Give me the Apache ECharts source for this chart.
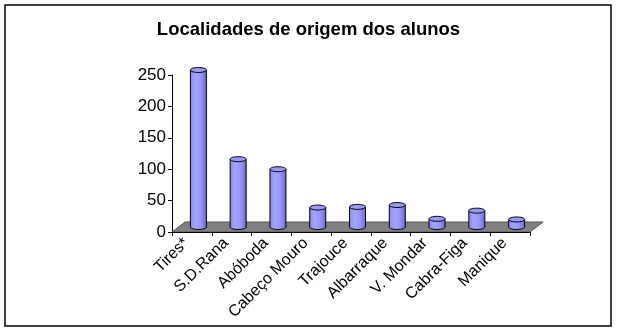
<!DOCTYPE html>
<html>
<head>
<meta charset="utf-8">
<script src="https://cdn.jsdelivr.net/npm/echarts@6/dist/echarts.min.js"></script>
<style>
html,body{margin:0;padding:0;background:#fff;}
#chart{width:617px;height:332px;}
</style>
</head>
<body>
<div id="chart"></div>
<script>
var categories = ['Tires*', 'S.D.Rana', 'Abóboda', 'Cabeço Mouro', 'Trajouce', 'Albarraque', 'V. Mondar', 'Cabra-Figa', 'Manique'];
var values = [250, 108, 92, 31, 32, 35, 13, 26, 12];
var yTicks = [0, 50, 100, 150, 200, 250];

var FONT = 'Arial, "Liberation Sans", sans-serif';
var DEPTH_X = 13, DEPTH_Y = -10;

var chart = echarts.init(document.getElementById('chart'));

var floorSeries = {
  type: 'custom',
  z: 1,
  silent: true,
  data: [0],
  renderItem: function (params, api) {
    var cs = params.coordSys;
    var x0 = cs.x, x1 = cs.x + cs.width, y = cs.y + cs.height;
    return {
      type: 'polygon',
      shape: { points: [[x0, y], [x1, y], [x1 + DEPTH_X, y + DEPTH_Y], [x0 + DEPTH_X, y + DEPTH_Y]] },
      style: { fill: '#808080', stroke: '#555', lineWidth: 1 }
    };
  }
};

var barSeries = {
  type: 'custom',
  z: 3,
  data: values.map(function (v, i) { return [i, v]; }),
  renderItem: function (params, api) {
    var idx = api.value(0), val = api.value(1);
    var b = api.coord([idx, 0]);
    var t = api.coord([idx, val]);
    var cx = b[0] + DEPTH_X / 2;
    var by = b[1] + DEPTH_Y / 2;
    var ty = t[1] + DEPTH_Y / 2;
    var rx = 8, ry = 2.5;
    var grad = new echarts.graphic.LinearGradient(0, 0, 1, 0, [
      { offset: 0, color: '#8a8aee' },
      { offset: 0.3, color: '#a3a3ff' },
      { offset: 0.65, color: '#9797fa' },
      { offset: 1, color: '#6d6dcf' }
    ]);
    return {
      type: 'group',
      children: [
        { type: 'ellipse', shape: { cx: cx, cy: by, rx: rx, ry: ry }, style: { fill: grad, stroke: '#000', lineWidth: 1 } },
        { type: 'rect', shape: { x: cx - rx, y: ty, width: 2 * rx, height: by - ty }, style: { fill: grad, stroke: null } },
        { type: 'line', shape: { x1: cx - rx, y1: ty, x2: cx - rx, y2: by }, style: { stroke: '#000', lineWidth: 1 } },
        { type: 'line', shape: { x1: cx + rx, y1: ty, x2: cx + rx, y2: by }, style: { stroke: '#000', lineWidth: 1 } },
        { type: 'ellipse', shape: { cx: cx, cy: ty, rx: rx, ry: ry }, style: { fill: '#9a9af6', stroke: '#000', lineWidth: 1 } }
      ]
    };
  }
};

chart.setOption({
  backgroundColor: '#fff',
  animation: false,
  title: {
    text: 'Localidades de origem dos alunos',
    left: 'center',
    top: 15,
    textStyle: { fontFamily: FONT, fontSize: 18.5, fontWeight: 'bold', color: '#000' }
  },
  grid: { left: 172, top: 75, width: 358, height: 157, containLabel: false },
  xAxis: {
    type: 'category',
    data: categories,
    axisLine: { show: true, lineStyle: { color: '#000', width: 1 } },
    axisTick: { show: true, alignWithLabel: false, length: 4, lineStyle: { color: '#000' } },
    axisLabel: { rotate: 45, margin: 3, padding: [0, 8, 16, 0], fontFamily: FONT, fontSize: 16, color: '#000', interval: 0 },
    splitLine: { show: false },
    z: 2
  },
  yAxis: {
    type: 'value',
    min: 0, max: 250, interval: 50,
    axisLine: { show: true, lineStyle: { color: '#000', width: 1 } },
    axisTick: { show: true, length: 4, lineStyle: { color: '#000' } },
    axisLabel: { fontFamily: FONT, fontSize: 17, color: '#000', margin: 6,
      formatter: function (v) { return yTicks.indexOf(v) >= 0 ? String(v) : ''; } },
    splitLine: { show: false }
  },
  graphic: [{
    type: 'rect',
    shape: { x: 5, y: 5, width: 606, height: 321 },
    style: { fill: null, stroke: '#000', lineWidth: 1.5 },
    z: 100,
    silent: true
  }],
  series: [floorSeries, barSeries]
});
</script>
</body>
</html>
